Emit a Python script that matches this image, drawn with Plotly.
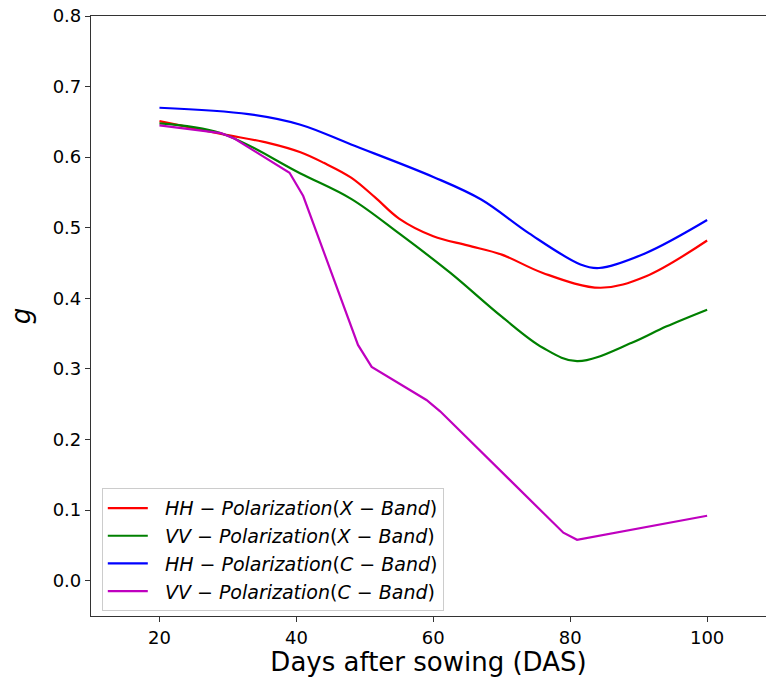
import plotly.graph_objects as go

# Data
hhx_das = [20, 29, 36, 40.6, 44, 48, 51.5, 55, 60, 65, 70, 76, 84.4, 91, 100]
hhx_g = [0.651, 0.633, 0.620, 0.607, 0.592, 0.571, 0.543, 0.513, 0.488, 0.475, 0.462, 0.436, 0.415, 0.431, 0.482]

vvx_das = [20, 29, 40.6, 48, 55, 62.5, 70, 76, 81, 89, 94, 100]
vvx_g = [0.648, 0.634, 0.577, 0.541, 0.492, 0.436, 0.374, 0.330, 0.311, 0.337, 0.360, 0.384]

hhc_das = [20, 33, 40.6, 48, 60, 67, 74, 81.5, 84.2, 91, 100]
hhc_g = [0.670, 0.661, 0.646, 0.618, 0.572, 0.540, 0.492, 0.448, 0.443, 0.464, 0.511]

vvc_das = [20, 29, 31, 39, 41, 49, 51, 59, 61, 79, 81, 100]
vvc_g = [0.645, 0.634, 0.626, 0.578, 0.545, 0.334, 0.303, 0.256, 0.240, 0.068, 0.058, 0.092]

names = [
    "&nbsp;&nbsp;<i>HH</i> − <i>Polarization</i>(<i>X</i> − <i>Band</i>)",
    "&nbsp;&nbsp;<i>VV</i> − <i>Polarization</i>(<i>X</i> − <i>Band</i>)",
    "&nbsp;&nbsp;<i>HH</i> − <i>Polarization</i>(<i>C</i> − <i>Band</i>)",
    "&nbsp;&nbsp;<i>VV</i> − <i>Polarization</i>(<i>C</i> − <i>Band</i>)",
]
colors = ["#ff0000", "#008000", "#0000ff", "#bf00bf"]
xtick_vals = [20, 40, 60, 80, 100]
ytick_vals = [0.0, 0.1, 0.2, 0.3, 0.4, 0.5, 0.6, 0.7, 0.8]

fig = go.Figure()
series = [(hhx_das, hhx_g, "spline"), (vvx_das, vvx_g, "spline"),
          (hhc_das, hhc_g, "spline"), (vvc_das, vvc_g, "linear")]
for (xs, ys, shape), nm, c in zip(series, names, colors):
    line = dict(color=c, width=2.2, shape=shape)
    if shape == "spline":
        line["smoothing"] = 1.0
    fig.add_trace(go.Scatter(x=xs, y=ys, mode="lines", name=nm, line=line))

font = "DejaVu Sans"
fig.update_layout(
    width=766, height=677,
    margin=dict(l=91, r=0, t=16, b=61),
    paper_bgcolor="white", plot_bgcolor="white",
    font=dict(family=font, color="black"),
    legend=dict(
        x=0.016, y=0.213, xanchor="left", yanchor="top",
        bgcolor="rgba(255,255,255,0.8)", bordercolor="#cccccc", borderwidth=1,
        font=dict(family=font, size=19, color="black"),
        tracegroupgap=0, itemwidth=40,
    ),
    showlegend=True,
)
fig.update_xaxes(
    range=[10, 108.6], tickvals=xtick_vals, ticks="outside", ticklen=5, tickwidth=1,
    tickcolor="#333", showline=True, linecolor="#333", linewidth=1.2, mirror=True,
    showgrid=False, zeroline=False, tickfont=dict(size=18, family=font),
    title=dict(text="Days after sowing (DAS)", font=dict(size=26, family=font), standoff=2),
)
fig.update_yaxes(
    range=[-0.05, 0.8], tickvals=ytick_vals, tickformat=".1f", ticks="outside", ticklen=5,
    tickwidth=1, tickcolor="#333", showline=True, linecolor="#333", linewidth=1.2,
    showgrid=False, zeroline=False, tickfont=dict(size=18, family=font),
    title=dict(text="<i>g</i>", font=dict(size=26, family=font), standoff=14),
)
fig.write_html("out.html")
